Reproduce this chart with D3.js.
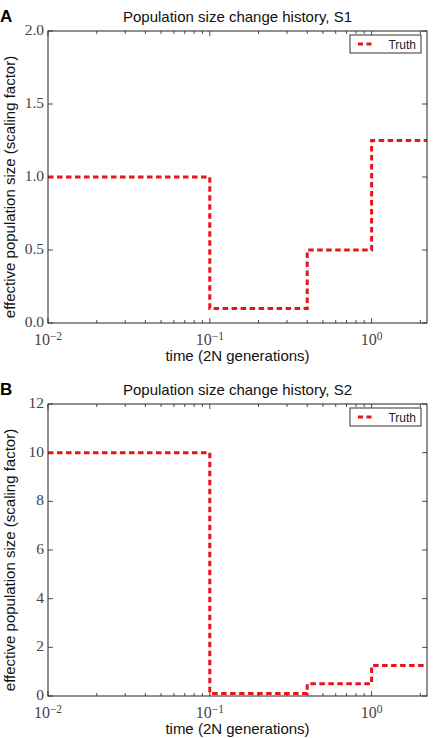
<!DOCTYPE html>
<html><head><meta charset="utf-8">
<script src="https://cdnjs.cloudflare.com/ajax/libs/d3/7.8.5/d3.min.js"></script>
<style>body{margin:0;background:#fff}svg{display:block}</style>
</head><body><svg id="c" width="434" height="738"></svg>
<script>
// Data
const panelLabels = ["A", "B"];
const titles = ["Population size change history, S1", "Population size change history, S2"];
const stepTimes = [0.01, 0.1, 0.4, 1.0, 2.2];          // breakpoints (2N generations)
const sizesS1 = [1.0, 0.1, 0.5, 1.25];                  // scaling factor per epoch
const sizesS2 = [10, 0.1, 0.5, 1.25];
const yTicksS1 = [0.0, 0.5, 1.0, 1.5, 2.0];
const yTicksS2 = [0, 2, 4, 6, 8, 10, 12];
const yMaxes = [2.0, 12];
const xTickExps = [-2, -1, 0];
const legendLabel = "Truth";

const svg = d3.select("#c");
const panels = [
  {top: 31, bottom: 323, sizes: sizesS1, yt: yTicksS1, ymax: yMaxes[0], fmt: d3.format(".1f"), title: titles[0], label: panelLabels[0]},
  {top: 404, bottom: 696, sizes: sizesS2, yt: yTicksS2, ymax: yMaxes[1], fmt: d3.format("d"), title: titles[1], label: panelLabels[1]}
];
const L = 48, R = 427;
const sans = "Liberation Sans, Arial, sans-serif";
const serif = "Liberation Serif, DejaVu Serif, serif";

panels.forEach(p => {
  const x = d3.scaleLog().domain([stepTimes[0], stepTimes[stepTimes.length-1]]).range([L, R]);
  const y = d3.scaleLinear().domain([0, p.ymax]).range([p.bottom, p.top]);
  const g = svg.append("g");

  const minor = [];
  for (let e = -2; e <= 0; e++) for (let m = 1; m <= 9; m++) {
    const v = m * Math.pow(10, e);
    if (v >= stepTimes[0] && v <= stepTimes[stepTimes.length-1]) minor.push({v, major: m === 1});
  }
  minor.forEach(t => {
    const len = t.major ? 5 : 3;
    const xx = x(t.v);
    g.append("line").attr("x1", xx).attr("x2", xx).attr("y1", p.bottom).attr("y2", p.bottom - len).attr("stroke", "#222").attr("stroke-width", 0.8);
    g.append("line").attr("x1", xx).attr("x2", xx).attr("y1", p.top).attr("y2", p.top + len).attr("stroke", "#222").attr("stroke-width", 0.8);
  });
  p.yt.forEach(v => {
    const yy = y(v);
    g.append("line").attr("x1", L).attr("x2", L + 5).attr("y1", yy).attr("y2", yy).attr("stroke", "#222").attr("stroke-width", 0.8);
    g.append("line").attr("x1", R).attr("x2", R - 5).attr("y1", yy).attr("y2", yy).attr("stroke", "#222").attr("stroke-width", 0.8);
    g.append("text").attr("x", L - 4).attr("y", yy + 4).attr("text-anchor", "end")
      .attr("font-family", serif).attr("font-size", 15.5).attr("fill", "#444").text(p.fmt(v));
  });
  xTickExps.forEach(e => {
    const xx = x(Math.pow(10, e));
    const t = g.append("text").attr("x", xx).attr("y", p.bottom + 22).attr("text-anchor", "middle")
      .attr("font-family", serif).attr("font-size", 16).attr("fill", "#444");
    t.append("tspan").text("10");
    t.append("tspan").attr("dy", -5.5).attr("font-size", 11.5).text(e < 0 ? "\u2212" + (-e) : String(e));
  });

  const pts = [];
  p.sizes.forEach((s, i) => { pts.push([stepTimes[i], s]); pts.push([stepTimes[i+1], s]); });
  const line = d3.line().x(d => x(d[0])).y(d => y(d[1]));
  g.append("path").attr("d", line(pts)).attr("fill", "none").attr("stroke", "#e8141c")
    .attr("stroke-width", 3).attr("stroke-dasharray", "5.5,3.5");

  g.append("rect").attr("x", L).attr("y", p.top).attr("width", R - L).attr("height", p.bottom - p.top)
    .attr("fill", "none").attr("stroke", "#222").attr("stroke-width", 1);

  const lg = g.append("g");
  lg.append("rect").attr("x", 350).attr("y", p.top + 4).attr("width", 71).attr("height", 18)
    .attr("fill", "#fff").attr("stroke", "#333").attr("stroke-width", 1);
  lg.append("line").attr("x1", 358).attr("x2", 374).attr("y1", p.top + 13).attr("y2", p.top + 13)
    .attr("stroke", "#e8141c").attr("stroke-width", 3).attr("stroke-dasharray", "5,3.5");
  lg.append("text").attr("x", 416).attr("y", p.top + 17.5).attr("text-anchor", "end")
    .attr("font-family", sans).attr("font-size", 12).attr("fill", "#222").text(legendLabel);

  g.append("text").attr("x", (L + R) / 2).attr("y", p.top - 9).attr("text-anchor", "middle")
    .attr("font-family", sans).attr("font-size", 15).attr("fill", "#111").text(p.title);
  g.append("text").attr("x", 0).attr("y", p.top - 9).attr("font-family", sans).attr("font-weight", "bold")
    .attr("font-size", 17).attr("fill", "#000").text(p.label);
  g.append("text").attr("x", (L + R) / 2).attr("y", p.bottom + 38).attr("text-anchor", "middle")
    .attr("font-family", sans).attr("font-size", 15).attr("fill", "#111").text("time (2N generations)");
  g.append("text").attr("transform", `translate(15,${(p.top + p.bottom) / 2 + 10}) rotate(-90)`)
    .attr("text-anchor", "middle").attr("font-family", sans).attr("font-size", 15).attr("fill", "#111")
    .text("effective population size (scaling factor)");
});
</script></body></html>
